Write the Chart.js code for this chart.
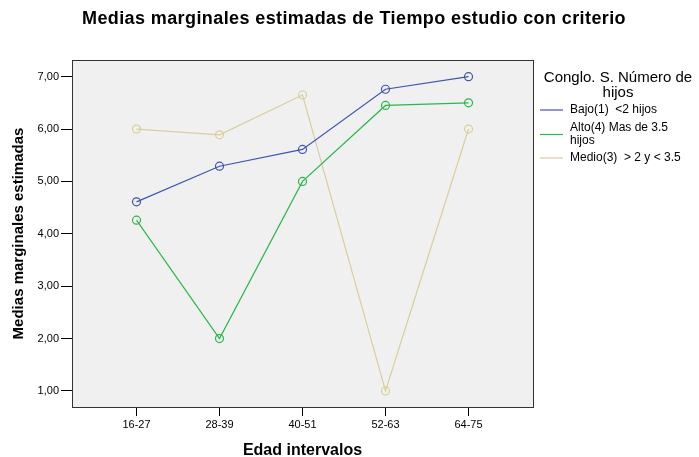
<!DOCTYPE html>
<html>
<head>
<meta charset="utf-8">
<script src="https://cdn.jsdelivr.net/npm/chart.js@4"></script>
<style>
  html, body { margin: 0; padding: 0; background: #fff; }
  #wrap { width: 699px; height: 457px; position: relative; }
</style>
</head>
<body>
<div id="wrap"><canvas id="myChart" width="699" height="457"></canvas></div>
<script>
'use strict'

let categories = ['16-27', '28-39', '40-51', '52-63', '64-75'];
let bajo = [4.61, 5.29, 5.61, 6.76, 7.00];
let alto = [4.26, 2.00, 5.00, 6.45, 6.50];
let medio = [6.00, 5.89, 6.65, 1.00, 6.00];
let yTicks = [1, 2, 3, 4, 5, 6, 7];

let seriesNames = ['Bajo(1)  <2 hijos', 'Alto(4) Mas de 3.5 hijos', 'Medio(3)  > 2 y < 3.5'];
let seriesColors = ['#3f55b0', '#2ab84a', '#d9cf9c'];

let titleText = 'Medias marginales estimadas de Tiempo estudio con criterio';
let xTitle = 'Edad intervalos';
let yTitle = 'Medias marginales estimadas';
let legendTitle = ['Conglo. S. Número de', 'hijos'];

let fam = '"Liberation Sans", Arial, sans-serif';

function toPoints(arr) {
    return arr.map((v, i) => ({ x: i, y: v }));
}

function makeSet(label, values, color) {
    return {
        label: label,
        data: toPoints(values),
        borderColor: color,
        backgroundColor: 'rgba(0,0,0,0)',
        borderWidth: 1.2,
        pointRadius: 4,
        pointBorderWidth: 1.2,
        pointBackgroundColor: 'rgba(0,0,0,0)',
        pointBorderColor: color,
        tension: 0
    }
}

// grey plot area, frame, titles and legend
let frame = {
    id: 'frame',
    beforeDraw(chart) {
        let a = chart.chartArea;
        let ctx = chart.ctx;
        ctx.save();
        ctx.fillStyle = '#f0f0f0';
        ctx.fillRect(a.left, a.top, a.right - a.left, a.bottom - a.top);
        ctx.restore();
    },
    afterDraw(chart) {
        let a = chart.chartArea;
        let ctx = chart.ctx;
        ctx.save();
        ctx.strokeStyle = '#333';
        ctx.lineWidth = 1;
        ctx.strokeRect(a.left + 0.5, a.top + 0.5, a.right - a.left, a.bottom - a.top);

        ctx.fillStyle = '#000';
        ctx.textAlign = 'center';
        ctx.textBaseline = 'alphabetic';
        ctx.font = 'bold 18px ' + fam;
        ctx.letterSpacing = '0.4px';
        ctx.fillText(titleText, 354, 24);
        ctx.letterSpacing = '0px';

        ctx.font = 'bold 16px ' + fam;
        ctx.fillText(xTitle, (a.left + a.right) / 2, 455);

        ctx.save();
        ctx.translate(23, (a.top + a.bottom) / 2);
        ctx.rotate(-Math.PI / 2);
        ctx.font = 'bold 15px ' + fam;
        ctx.fillText(yTitle, 0, 0);
        ctx.restore();

        // legend
        ctx.textBaseline = 'middle';
        ctx.font = '15px ' + fam;
        ctx.fillText(legendTitle[0], 618, 78);
        ctx.fillText(legendTitle[1], 618, 93);

        ctx.font = '12px ' + fam;
        ctx.textAlign = 'left';
        let rows = [
            { lines: ['Bajo(1)  <2 hijos'], y: 110 },
            { lines: ['Alto(4) Mas de 3.5', 'hijos'], y: 128 },
            { lines: ['Medio(3)  > 2 y < 3.5'], y: 158 }
        ];
        rows.forEach((r, i) => {
            let mid = r.y + (r.lines.length - 1) * 6.5;
            ctx.strokeStyle = seriesColors[i];
            ctx.lineWidth = 1.2;
            ctx.beginPath();
            ctx.moveTo(540, mid);
            ctx.lineTo(563, mid);
            ctx.stroke();
            r.lines.forEach((t, j) => {
                ctx.fillText(t, 570, r.y + j * 13);
            });
        });
        ctx.restore();
    }
};

let ctx = document.getElementById('myChart').getContext('2d');
let myChart = new Chart(ctx, {
    type: 'line',
    data: {
        datasets: [
            makeSet(seriesNames[0], bajo, seriesColors[0]),
            makeSet(seriesNames[1], alto, seriesColors[1]),
            makeSet(seriesNames[2], medio, seriesColors[2])
        ]
    },
    options: {
        responsive: false,
        animation: false,
        layout: { padding: { top: 60, right: 166, left: 0, bottom: 0 } },
        plugins: {
            legend: { display: false },
            tooltip: { enabled: false },
            title: { display: false }
        },
        scales: {
            x: {
                type: 'linear',
                min: -0.777,
                max: 4.777,
                afterBuildTicks(scale) {
                    scale.ticks = categories.map((c, i) => ({ value: i }));
                },
                afterFit(scale) { scale.height = 50; },
                ticks: {
                    color: '#000',
                    font: { family: fam, size: 11 },
                    padding: 2,
                    maxRotation: 0,
                    callback: (v) => categories[v]
                },
                grid: { drawOnChartArea: false, drawTicks: true, tickLength: 9, color: '#000' },
                border: { display: false }
            },
            y: {
                min: 0.693,
                max: 7.318,
                afterBuildTicks(scale) {
                    scale.ticks = yTicks.map(v => ({ value: v }));
                },
                afterFit(scale) { scale.width = 72; },
                ticks: {
                    color: '#000',
                    font: { family: fam, size: 11 },
                    padding: 2,
                    callback: (v) => v.toFixed(2).replace('.', ',')
                },
                grid: { drawOnChartArea: false, drawTicks: true, tickLength: 11, color: '#000' },
                border: { display: false }
            }
        }
    },
    plugins: [frame]
})
</script>
</body>
</html>
